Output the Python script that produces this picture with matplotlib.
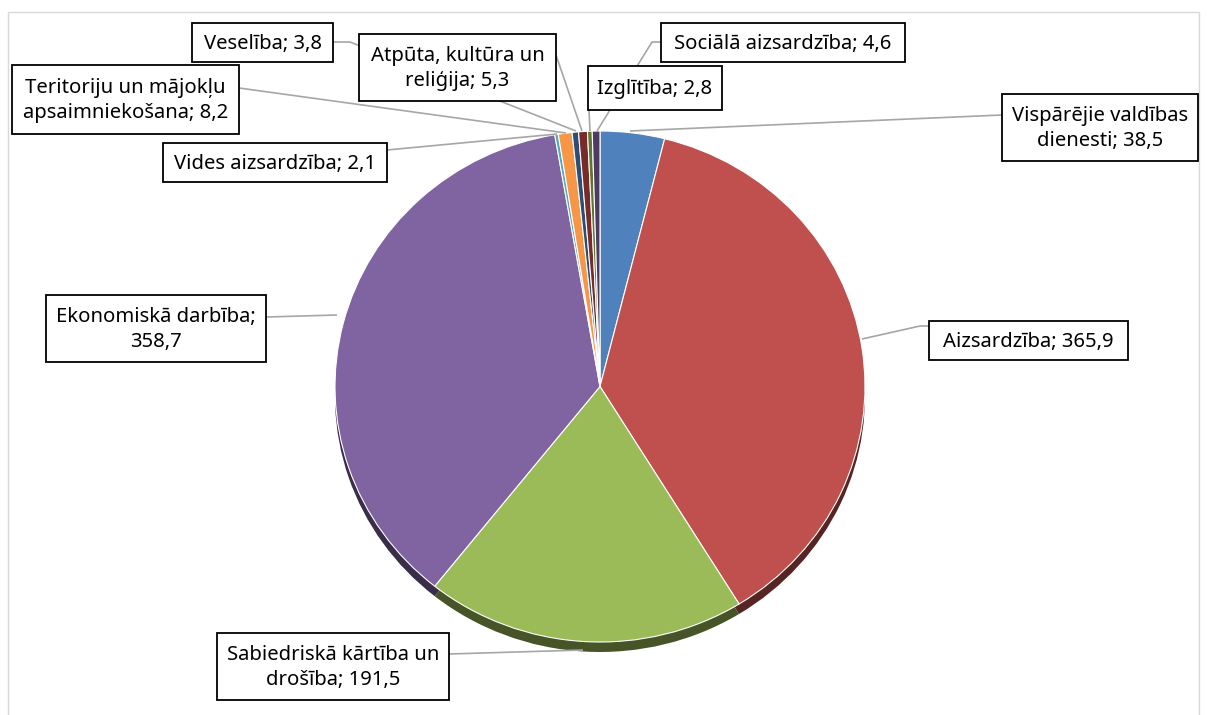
import matplotlib
matplotlib.use("Agg")
import matplotlib.pyplot as plt
import matplotlib.patches as mpatches
import numpy as np
from matplotlib.colors import to_rgb

# ---- data (clockwise from 12 o'clock) ----
categories = [
    "Vispārējie valdības dienesti",
    "Aizsardzība",
    "Sabiedriskā kārtība un drošība",
    "Ekonomiskā darbība",
    "Vides aizsardzība",
    "Teritoriju un mājokļu apsaimniekošana",
    "Veselība",
    "Atpūta, kultūra un reliģija",
    "Izglītība",
    "Sociālā aizsardzība",
]
values = [38.5, 365.9, 191.5, 358.7, 2.1, 8.2, 3.8, 5.3, 2.8, 4.6]
label_texts = [
    "Vispārējie valdības\ndienesti; 38,5",
    "Aizsardzība; 365,9",
    "Sabiedriskā kārtība un\ndrošība; 191,5",
    "Ekonomiskā darbība;\n358,7",
    "Vides aizsardzība; 2,1",
    "Teritoriju un mājokļu\napsaimniekošana; 8,2",
    "Veselība; 3,8",
    "Atpūta, kultūra un\nreliģija; 5,3",
    "Izglītība; 2,8",
    "Sociālā aizsardzība; 4,6",
]
colors = ["#4F81BD", "#C0504D", "#9BBB59", "#8064A2", "#4BACC6", "#F79646",
          "#2C4D75", "#772C2A", "#5F7530", "#4D3B62"]

# ---- layout (pixels) ----
W, H = 1207, 715
# label boxes: (x0, y0, x1, y1)
boxes = [
    (1002, 94, 1198, 161),
    (929, 321, 1128, 360),
    (217, 633, 449, 700),
    (46, 295, 266, 362),
    (163, 143, 387, 182),
    (12, 65, 239, 134),
    (192, 23, 333, 62),
    (359, 34, 556, 101),
    (588, 66, 722, 110),
    (661, 23, 905, 62),
]
leaders = [
    [(1002, 115), (630, 131)],
    [(929, 326), (920, 326), (862, 339)],
    [(449, 654), (583, 650)],
    [(266, 317), (337, 315)],
    [(387, 150), (557, 134)],
    [(239, 88), (566, 133)],
    [(333, 42), (350, 42), (576, 131)],
    [(556, 55), (582, 131)],
    [(589, 110), (590, 131)],
    [(661, 42), (652, 42), (597, 131)],
]
pie_box = (335, 131, 865, 642)  # ellipse bounding box
depth_px = 10

fig = plt.figure(figsize=(W / 100, H / 100), dpi=100)
fig.patch.set_facecolor("white")

# pie axes
x0, y0, x1, y1 = pie_box
ax = fig.add_axes([x0 / W, 1 - y1 / H, (x1 - x0) / W, (y1 - y0) / H])
ry = (y1 - y0) / 2

def darker(c, f=0.45):
    r, g, b = to_rgb(c)
    return (r * f, g * f, b * f)

shadow_colors = [darker(c) for c in colors]
ax.pie(values, colors=shadow_colors, startangle=90, counterclock=False,
       radius=1, center=(0, -depth_px / ry),
       wedgeprops=dict(edgecolor="none", linewidth=0))
ax.pie(values, colors=colors, startangle=90, counterclock=False,
       radius=1, center=(0, 0),
       wedgeprops=dict(edgecolor="white", linewidth=0.8))
ax.set_aspect("auto")
ax.set_xlim(-1, 1)
ax.set_ylim(-1, 1)
for p in ax.patches:
    p.set_clip_on(False)
ax.axis("off")

# overlay axes in pixel coords
ov = fig.add_axes([0, 0, 1, 1])
ov.set_xlim(0, W)
ov.set_ylim(H, 0)
ov.axis("off")
ov.patch.set_alpha(0)

# chart border
ov.plot([8, 8, 1199, 1199], [H + 5, 12, 12, H + 5], color="#D9D9D9", lw=1.0,
        solid_joinstyle="miter", zorder=0)

for pts in leaders:
    xs, ys = zip(*pts)
    ov.plot(xs, ys, color="#A6A6A6", lw=1.2, zorder=1, solid_capstyle="butt")

for (bx0, by0, bx1, by1), txt in zip(boxes, label_texts):
    ov.add_patch(mpatches.Rectangle((bx0, by0), bx1 - bx0, by1 - by0,
                                    facecolor="white", edgecolor="black",
                                    lw=1.3, zorder=2))
    ov.text((bx0 + bx1) / 2, (by0 + by1) / 2 + 1, txt, ha="center", va="center",
            fontsize=14.6, family=["Noto Sans", "DejaVu Sans"], color="black",
            linespacing=1.3, zorder=3)

fig.savefig("out.png", dpi=100)
